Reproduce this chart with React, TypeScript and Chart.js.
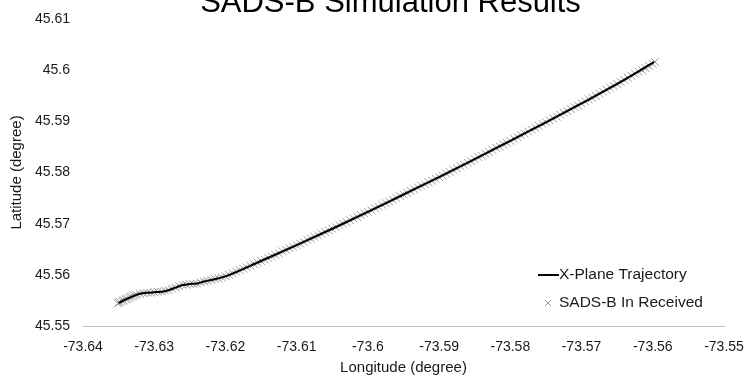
import React, { useEffect, useRef } from "react";
import { Chart, registerables } from "chart.js";

Chart.register(...registerables);

const TITLE = "SADS-B Simulation Results";
const X_TITLE = "Longitude (degree)";
const Y_TITLE = "Latitude (degree)";
const LINE_LABEL = "X-Plane Trajectory";
const POINT_LABEL = "SADS-B In Received";

const xTicks = [-73.64, -73.63, -73.62, -73.61, -73.6, -73.59, -73.58, -73.57, -73.56, -73.55];
const yTicks = [45.55, 45.56, 45.57, 45.58, 45.59, 45.6, 45.61];

const trajectoryLon = [
  -73.635, -73.634, -73.633, -73.632, -73.631, -73.63, -73.629, -73.628, -73.627, -73.626,
  -73.625, -73.624, -73.623, -73.622, -73.62, -73.615, -73.61, -73.605, -73.6, -73.595,
  -73.59, -73.585, -73.58, -73.575, -73.57, -73.565, -73.5598,
];
const trajectoryLat = [
  45.5545, 45.5552, 45.5558, 45.5563, 45.5565, 45.5566, 45.5567, 45.557, 45.5575, 45.558,
  45.5582, 45.5583, 45.5587, 45.559, 45.5597, 45.5627, 45.5658, 45.569, 45.5723, 45.5757,
  45.5791, 45.5826, 45.5862, 45.5898, 45.5935, 45.5973, 45.6016,
];

const received: [number, number][] = [
  [-73.6351, 45.5544], [-73.6348, 45.5547], [-73.6343, 45.555], [-73.6338, 45.5553], [-73.6333, 45.5557], [-73.6328, 45.556],
  [-73.635, 45.5546], [-73.6345, 45.5549], [-73.634, 45.5552], [-73.6335, 45.5555], [-73.633, 45.5558], [-73.6325, 45.5561],
  [-73.632, 45.5563], [-73.6315, 45.5564], [-73.631, 45.5565], [-73.6305, 45.5565], [-73.63, 45.5566], [-73.6295, 45.5567],
  [-73.629, 45.5567], [-73.6285, 45.5569], [-73.628, 45.557], [-73.6275, 45.5573], [-73.627, 45.5575], [-73.6265, 45.5578],
  [-73.626, 45.558], [-73.6255, 45.5581], [-73.625, 45.5582], [-73.6245, 45.5582], [-73.624, 45.5583], [-73.6235, 45.5585],
  [-73.623, 45.5587], [-73.6225, 45.5588], [-73.622, 45.559], [-73.6215, 45.5592], [-73.621, 45.5593], [-73.6205, 45.5595],
  [-73.62, 45.5597], [-73.6195, 45.56], [-73.619, 45.5603], [-73.6185, 45.5606], [-73.618, 45.5609], [-73.6175, 45.5612],
  [-73.617, 45.5615], [-73.6165, 45.5618], [-73.616, 45.5621], [-73.6155, 45.5624], [-73.615, 45.5627], [-73.6145, 45.563],
  [-73.614, 45.5633], [-73.6135, 45.5636], [-73.613, 45.5639], [-73.6125, 45.5642], [-73.612, 45.5646], [-73.6115, 45.5649],
  [-73.611, 45.5652], [-73.6105, 45.5655], [-73.61, 45.5658], [-73.6095, 45.5661], [-73.609, 45.5664], [-73.6085, 45.5668],
  [-73.608, 45.5671], [-73.6075, 45.5674], [-73.607, 45.5677], [-73.6065, 45.568], [-73.606, 45.5684], [-73.6055, 45.5687],
  [-73.605, 45.569], [-73.6045, 45.5693], [-73.604, 45.5697], [-73.6035, 45.57], [-73.603, 45.5703], [-73.6025, 45.5707],
  [-73.602, 45.571], [-73.6015, 45.5713], [-73.601, 45.5717], [-73.6005, 45.572], [-73.6, 45.5723], [-73.5995, 45.5726],
  [-73.599, 45.573], [-73.5985, 45.5733], [-73.598, 45.5737], [-73.5975, 45.574], [-73.597, 45.5743], [-73.5965, 45.5747],
  [-73.596, 45.575], [-73.5955, 45.5754], [-73.595, 45.5757], [-73.5945, 45.576], [-73.594, 45.5764], [-73.5935, 45.5767],
  [-73.593, 45.5771], [-73.5925, 45.5774], [-73.592, 45.5777], [-73.5915, 45.5781], [-73.591, 45.5784], [-73.5905, 45.5788],
  [-73.59, 45.5791], [-73.5895, 45.5794], [-73.589, 45.5798], [-73.5885, 45.5801], [-73.588, 45.5805], [-73.5875, 45.5808],
  [-73.587, 45.5812], [-73.5865, 45.5815], [-73.586, 45.5819], [-73.5855, 45.5822], [-73.585, 45.5826], [-73.5845, 45.583],
  [-73.584, 45.5833], [-73.5835, 45.5837], [-73.583, 45.584], [-73.5825, 45.5844], [-73.582, 45.5848], [-73.5815, 45.5851],
  [-73.581, 45.5855], [-73.5805, 45.5858], [-73.58, 45.5862], [-73.5795, 45.5866], [-73.579, 45.5869], [-73.5785, 45.5873],
  [-73.578, 45.5876], [-73.5775, 45.588], [-73.577, 45.5884], [-73.5765, 45.5887], [-73.576, 45.5891], [-73.5755, 45.5895],
  [-73.575, 45.5898], [-73.5745, 45.5902], [-73.574, 45.5906], [-73.5735, 45.5909], [-73.573, 45.5913], [-73.5725, 45.5917],
  [-73.572, 45.592], [-73.5715, 45.5924], [-73.571, 45.5928], [-73.5705, 45.5931], [-73.57, 45.5935], [-73.5695, 45.5939],
  [-73.569, 45.5943], [-73.5685, 45.5946], [-73.568, 45.595], [-73.5675, 45.5954], [-73.567, 45.5958], [-73.5665, 45.5962],
  [-73.566, 45.5966], [-73.5655, 45.5969], [-73.565, 45.5973], [-73.5645, 45.5977], [-73.564, 45.5981], [-73.5635, 45.5985],
  [-73.563, 45.5989], [-73.5625, 45.5993], [-73.562, 45.5997], [-73.5615, 45.6], [-73.561, 45.6004], [-73.5605, 45.6008],
  [-73.56, 45.6012], [-73.5597, 45.6016],
];

const FONT = '"Liberation Sans", Arial, sans-serif';
const TEXT = "#1a1a1a";

const fmt = (v: number | string) => String(Number(Number(v).toFixed(3)));

const overlayPlugin = {
  id: "overlay",
  afterDraw(chart: any) {
    const { ctx, chartArea } = chart;
    ctx.save();
    // Title
    ctx.font = `31px ${FONT}`;
    ctx.fillStyle = "#000";
    ctx.textAlign = "center";
    ctx.textBaseline = "alphabetic";
    ctx.fillText(TITLE, (chartArea.left + chartArea.right) / 2 - 13, 12);
    // Legend
    const ds = chart.data.datasets;
    const lx = chartArea.right - 186;
    const tx = chartArea.right - 165;
    const y1 = chartArea.bottom - 51;
    const y2 = chartArea.bottom - 23;
    ctx.strokeStyle = ds[0].borderColor;
    ctx.lineWidth = 2;
    ctx.beginPath();
    ctx.moveTo(lx, y1);
    ctx.lineTo(lx + 21, y1);
    ctx.stroke();
    ctx.strokeStyle = ds[1].borderColor;
    ctx.lineWidth = 1;
    const cx = lx + 10;
    const r = 3;
    ctx.beginPath();
    ctx.moveTo(cx - r, y2 - r);
    ctx.lineTo(cx + r, y2 + r);
    ctx.moveTo(cx + r, y2 - r);
    ctx.lineTo(cx - r, y2 + r);
    ctx.stroke();
    ctx.font = `15.5px ${FONT}`;
    ctx.fillStyle = TEXT;
    ctx.textAlign = "left";
    ctx.textBaseline = "middle";
    ctx.fillText(ds[0].label, tx, y1);
    ctx.fillText(ds[1].label, tx, y2);
    ctx.restore();
  },
};

export default function App() {
  const ref = useRef<HTMLCanvasElement>(null);

  useEffect(() => {
    document.body.style.margin = "0";
    const canvas = ref.current;
    if (!canvas) return;
    const chart = new Chart(canvas, {
      type: "scatter",
      data: {
        datasets: [
          {
            type: "line",
            label: LINE_LABEL,
            data: trajectoryLon.map((x, i) => ({ x, y: trajectoryLat[i] })),
            borderColor: "#000000",
            backgroundColor: "#000000",
            borderWidth: 2,
            pointRadius: 0,
            fill: false,
            cubicInterpolationMode: "monotone",
            order: 0,
          } as any,
          {
            type: "scatter",
            label: POINT_LABEL,
            data: received.map(([x, y]) => ({ x, y })),
            pointStyle: "crossRot",
            pointRadius: 5.5,
            borderColor: "#9c9c9c",
            backgroundColor: "#9c9c9c",
            borderWidth: 1,
            order: 1,
          } as any,
        ],
      },
      options: {
        animation: false,
        responsive: false,
        devicePixelRatio: 1,
        layout: { padding: { top: 19, right: 21, left: 0, bottom: 0 } },
        plugins: {
          legend: { display: false },
          tooltip: { enabled: false },
          title: { display: false },
        },
        scales: {
          x: {
            type: "linear",
            min: xTicks[0],
            max: xTicks[xTicks.length - 1],
            afterBuildTicks: (s: any) => {
              s.ticks = xTicks.map((v) => ({ value: v }));
            },
            afterFit: (s: any) => {
              s.height = 57;
              s.paddingLeft = 0;
              s.paddingRight = 0;
            },
            grid: { display: false, drawTicks: false },
            border: { display: true, color: "#bfbfbf", width: 1 },
            ticks: {
              padding: 13,
              color: TEXT,
              font: { family: FONT, size: 14 },
              maxRotation: 0,
              autoSkip: false,
              callback: (v: any) => fmt(v),
            },
            title: {
              display: true,
              text: X_TITLE,
              color: TEXT,
              font: { family: FONT, size: 15 },
              padding: { top: 0, bottom: 6 },
            },
          },
          y: {
            type: "linear",
            min: yTicks[0],
            max: yTicks[yTicks.length - 1],
            afterBuildTicks: (s: any) => {
              s.ticks = yTicks.map((v) => ({ value: v }));
            },
            afterFit: (s: any) => {
              s.width = 83;
              s.paddingTop = 0;
              s.paddingBottom = 0;
            },
            grid: { display: false, drawTicks: false },
            border: { display: false },
            ticks: {
              padding: 13,
              color: TEXT,
              font: { family: FONT, size: 14 },
              autoSkip: false,
              callback: (v: any) => fmt(v),
            },
            title: {
              display: true,
              text: Y_TITLE,
              color: TEXT,
              font: { family: FONT, size: 15 },
              padding: { top: 8, bottom: 0 },
            },
          },
        },
      },
      plugins: [overlayPlugin],
    });
    return () => chart.destroy();
  }, []);

  return (
    <div style={{ width: 745, height: 383, background: "#fff" }}>
      <canvas ref={ref} width={745} height={383} />
    </div>
  );
}
